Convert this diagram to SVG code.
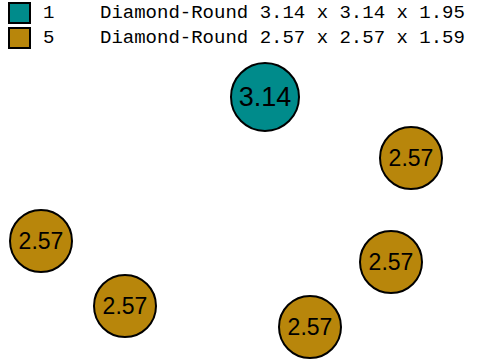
<svg xmlns="http://www.w3.org/2000/svg" width="480" height="360" viewBox="0 0 480 360">
<style>
.leg{font-family:"Liberation Mono","DejaVu Sans Mono",monospace;font-size:19px;fill:#000}
.sw{stroke:#000;stroke-width:2}
.n circle{stroke:#000;stroke-width:2}
.big{fill:#008B8B}
.sm{fill:#B8860B}
.lbl{font-family:"Liberation Sans",Arial,sans-serif;fill:#000;text-anchor:middle;dominant-baseline:central}
</style>
<rect width="480" height="360" fill="#fff"/>
<g id="legend">
<rect class="sw big" x="9" y="3" width="21" height="20"/>
<rect class="sw sm" x="9" y="28" width="21" height="20"/>
<text class="leg" x="43" y="18">1</text>
<text class="leg" x="100" y="18">Diamond-Round 3.14 x 3.14 x 1.95</text>
<text class="leg" x="43" y="43">5</text>
<text class="leg" x="100" y="43">Diamond-Round 2.57 x 2.57 x 1.59</text>
</g>
<g id="connectors"></g>
<g id="n1" class="n"><circle class="big" cx="265" cy="97" r="34"/><text class="lbl" x="265" y="97" font-size="27">3.14</text></g>
<g id="n2" class="n"><circle class="sm" cx="411" cy="158" r="31"/><text class="lbl" x="411" y="158" font-size="23">2.57</text></g>
<g id="n3" class="n"><circle class="sm" cx="41" cy="241" r="31"/><text class="lbl" x="41" y="241" font-size="23">2.57</text></g>
<g id="n4" class="n"><circle class="sm" cx="125" cy="306" r="31"/><text class="lbl" x="125" y="306" font-size="23">2.57</text></g>
<g id="n5" class="n"><circle class="sm" cx="310" cy="327" r="31"/><text class="lbl" x="310" y="327" font-size="23">2.57</text></g>
<g id="n6" class="n"><circle class="sm" cx="391" cy="262" r="31"/><text class="lbl" x="391" y="262" font-size="23">2.57</text></g>
</svg>
